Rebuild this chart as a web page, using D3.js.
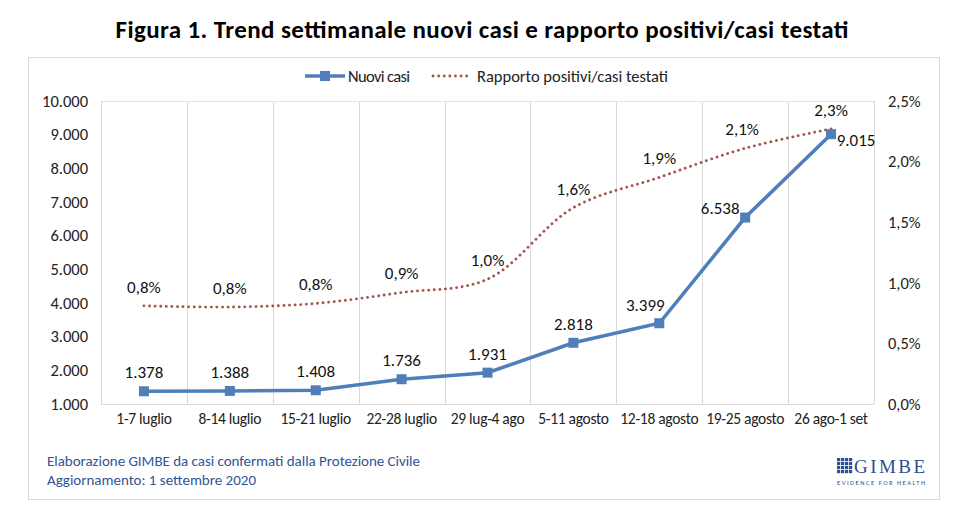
<!DOCTYPE html>
<html>
<head>
<meta charset="utf-8">
<script src="https://cdn.jsdelivr.net/npm/d3@7"></script>
<style>
  body { margin: 0; background: #fff; }
  text { font-family: Carlito, Lato, "Open Sans", sans-serif; }
</style>
</head>
<body>
<div id="chart"></div>
<script>
// weekly data
var weeks = ["1-7 luglio", "8-14 luglio", "15-21 luglio", "22-28 luglio", "29 lug-4 ago",
  "5-11 agosto", "12-18 agosto", "19-25 agosto", "26 ago-1 set"];
var nuoviCasi = [1378, 1388, 1408, 1736, 1931, 2818, 3399, 6538, 9015];
var rapporto = [0.81, 0.80, 0.83, 0.92, 1.03, 1.62, 1.87, 2.11, 2.27];
var leftTicks = [1000, 2000, 3000, 4000, 5000, 6000, 7000, 8000, 9000, 10000];
var rightTicks = [0, 0.5, 1.0, 1.5, 2.0, 2.5];

var width = 964, height = 514;
var margin = { left: 101, right: 90, top: 101, bottom: 110 };

var svg = d3.select("#chart").append("svg")
  .attr("width", width)
  .attr("height", height);

var blue = "#4F7FB8", red = "#A8524E";
var itFmt = d3.formatLocale({ decimal: ",", thousands: ".", grouping: [3], currency: ["€", ""] });
var intFmt = itFmt.format(",d");
var pctFmt = function (v) { return itFmt.format(".1f")(v) + "%"; };

// title
svg.append("text")
  .attr("x", 482).attr("y", 38)
  .attr("text-anchor", "middle")
  .attr("font-size", 25).attr("font-weight", "bold")
  .attr("textLength", 733)
  .text("Figura 1. Trend settimanale nuovi casi e rapporto positivi/casi testati");

// frame
svg.append("rect")
  .attr("x", 28.5).attr("y", 57.5)
  .attr("width", 911).attr("height", 442)
  .attr("fill", "none").attr("stroke", "#d9d9d9");

var x = d3.scaleBand()
  .domain(weeks)
  .range([margin.left, width - margin.right]);

var y = d3.scaleLinear()
  .domain([1000, 10000])
  .range([height - margin.bottom, margin.top]);

var y2 = d3.scaleLinear()
  .domain([0, 2.5])
  .range([height - margin.bottom, margin.top]);

// gridlines: vertical at category boundaries
var bounds = weeks.map(function (d) { return x(d); }).concat([x.range()[1]]);
svg.append("g").selectAll("line")
  .data(bounds)
  .enter().append("line")
  .attr("x1", function (d) { return Math.round(d) + 0.5; })
  .attr("x2", function (d) { return Math.round(d) + 0.5; })
  .attr("y1", margin.top)
  .attr("y2", height - margin.bottom)
  .attr("stroke", "#d9d9d9");

svg.append("line")
  .attr("x1", margin.left).attr("x2", width - margin.right)
  .attr("y1", margin.top + 0.5).attr("y2", margin.top + 0.5)
  .attr("stroke", "#e3e3e3");
svg.append("line")
  .attr("x1", margin.left).attr("x2", width - margin.right)
  .attr("y1", height - margin.bottom + 0.5).attr("y2", height - margin.bottom + 0.5)
  .attr("stroke", "#d9d9d9");

// left axis
var yAxis = d3.axisLeft(y).tickValues(leftTicks).tickSize(0).tickPadding(13)
  .tickFormat(function (d) { return intFmt(d); });
var gy = svg.append("g").attr("transform", "translate(" + margin.left + ",0)").call(yAxis);
gy.select(".domain").remove();
gy.selectAll("text").attr("font-size", 16.5).attr("fill", "#222")
  .style("font-family", "Carlito, Lato, sans-serif");

// right axis
var y2Axis = d3.axisRight(y2).tickValues(rightTicks).tickSize(0).tickPadding(14)
  .tickFormat(pctFmt);
var gy2 = svg.append("g").attr("transform", "translate(" + (width - margin.right) + ",0)").call(y2Axis);
gy2.select(".domain").remove();
gy2.selectAll("text").attr("font-size", 16.5).attr("fill", "#222")
  .style("font-family", "Carlito, Lato, sans-serif");

// x axis
var xAxis = d3.axisBottom(x).tickSize(0).tickPadding(9);
var gx = svg.append("g").attr("transform", "translate(0," + (height - margin.bottom) + ")").call(xAxis);
gx.select(".domain").remove();
gx.selectAll("text").attr("font-size", 15.5).attr("fill", "#222")
  .attr("letter-spacing", -0.3)
  .style("font-family", "Carlito, Lato, sans-serif");

var cx = function (i) { return x(weeks[i]) + x.bandwidth() / 2; };

// ratio line, smooth and dotted
var lineR = d3.line()
  .x(function (d, i) { return cx(i); })
  .y(function (d) { return y2(d); })
  .curve(d3.curveCatmullRom.alpha(0.5));

svg.append("path")
  .datum(rapporto)
  .attr("d", lineR)
  .attr("fill", "none")
  .attr("stroke", red)
  .attr("stroke-width", 2.8)
  .attr("stroke-linecap", "round")
  .attr("stroke-dasharray", "0.1 5.5");

// new cases line
var lineN = d3.line()
  .x(function (d, i) { return cx(i); })
  .y(function (d) { return y(d); });

svg.append("path")
  .datum(nuoviCasi)
  .attr("d", lineN)
  .attr("fill", "none")
  .attr("stroke", blue)
  .attr("stroke-width", 3.5);

svg.append("g").selectAll("rect")
  .data(nuoviCasi)
  .enter().append("rect")
  .attr("x", function (d, i) { return cx(i) - 5; })
  .attr("y", function (d) { return y(d) - 5; })
  .attr("width", 10).attr("height", 10)
  .attr("fill", blue);

// labels for new cases
var nOffX = [0, 0, 0, 0, 0, 0, -14, -25, 25];
var nOffY = [-13, -13, -13, -13, -13, -13, -12, -4, 12];
svg.append("g").selectAll("text")
  .data(nuoviCasi)
  .enter().append("text")
  .attr("x", function (d, i) { return cx(i) + nOffX[i]; })
  .attr("y", function (d, i) { return y(d) + nOffY[i]; })
  .attr("text-anchor", "middle")
  .attr("font-size", 17).attr("fill", "#111")
  .text(function (d) { return intFmt(d); });

// labels for ratio
var rOffX = [0, 0, 0, 0, 0, 0, 0, -3, 0];
svg.append("g").selectAll("text")
  .data(rapporto)
  .enter().append("text")
  .attr("x", function (d, i) { return cx(i) + rOffX[i]; })
  .attr("y", function (d) { return y2(d) - 13; })
  .attr("text-anchor", "middle")
  .attr("font-size", 17).attr("fill", "#111")
  .text(function (d) { return pctFmt(d); });

// legend
var lg = svg.append("g");
lg.append("line").attr("x1", 305).attr("x2", 345).attr("y1", 76).attr("y2", 76)
  .attr("stroke", blue).attr("stroke-width", 3.5);
lg.append("rect").attr("x", 320).attr("y", 71).attr("width", 10).attr("height", 10).attr("fill", blue);
lg.append("text").attr("x", 348).attr("y", 82).attr("font-size", 16.5).attr("fill", "#222")
  .attr("textLength", 62).text("Nuovi casi");
lg.append("line").attr("x1", 433).attr("x2", 470).attr("y1", 76).attr("y2", 76)
  .attr("stroke", red).attr("stroke-width", 2.8).attr("stroke-linecap", "round")
  .attr("stroke-dasharray", "0.1 5.5");
lg.append("text").attr("x", 477).attr("y", 82).attr("font-size", 16.5).attr("fill", "#222")
  .attr("textLength", 191).text("Rapporto positivi/casi testati");

// footer
svg.append("text").attr("x", 47).attr("y", 466).attr("font-size", 15).attr("fill", "#2F5597")
  .attr("textLength", 373).text("Elaborazione GIMBE da casi confermati dalla Protezione Civile");
svg.append("text").attr("x", 47).attr("y", 485).attr("font-size", 15).attr("fill", "#2F5597")
  .attr("textLength", 209).text("Aggiornamento: 1 settembre 2020");

// logo: grid icon + wordmark
var logo = svg.append("g");
var cells = d3.range(16);
logo.selectAll("rect.cell")
  .data(cells)
  .enter().append("rect")
  .attr("class", "cell")
  .attr("x", function (d) { return 837 + (d % 4) * 4; })
  .attr("y", function (d) { return 458 + Math.floor(d / 4) * 4; })
  .attr("width", 3.2).attr("height", 3.2)
  .attr("fill", "#2F4F8F");
logo.append("text").attr("x", 854).attr("y", 473).attr("font-size", 19)
  .style("font-family", "'Liberation Serif', serif")
  .attr("textLength", 71)
  .attr("fill", "#2F4F8F").text("GIMBE");
logo.append("text").attr("x", 837).attr("y", 485).attr("font-size", 6.5)
  .attr("fill", "#2F4F8F").attr("textLength", 88).text("EVIDENCE FOR HEALTH");
</script>
</body>
</html>
